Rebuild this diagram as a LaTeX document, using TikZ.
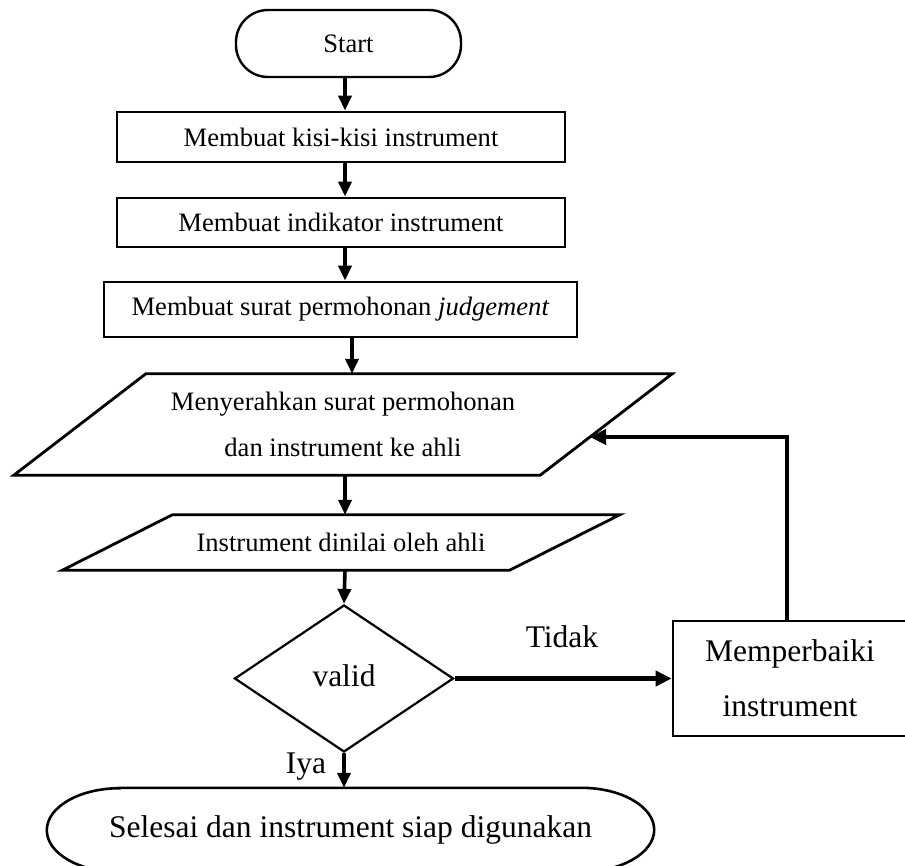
\documentclass[tikz,border=0pt]{standalone}
\usepackage{fontspec}
\setmainfont{Liberation Serif}
\usetikzlibrary{shapes.geometric,arrows.meta,calc}
\begin{document}
\begin{tikzpicture}[x=1pt,y=1pt,
  txt/.style={font=\fontsize{26.6}{30}\selectfont},
  big/.style={font=\fontsize{31.5}{55}\selectfont},
  box/.style={draw, rectangle, line width=2.8pt, inner sep=0pt, txt},
  startbox/.style={draw, rectangle, rounded corners=32pt, line width=2.4pt, inner sep=0pt, txt},
  para/.style={draw, line width=2.8pt, line join=miter},
  endline/.style={draw, line width=2.6pt},
  arr/.style={line width=3.6pt, -{Triangle[length=15pt,width=13pt]}},
  fb/.style={line width=4.6pt, -{Triangle[length=16pt,width=15pt]}},
]
\useasboundingbox (0,0) rectangle (905,-865);
\clip (0,0) rectangle (905,-865);

\coordinate (ax) at (345,0);
\coordinate (ax2) at (352,0);
\coordinate (fbx) at (787,0);
\coordinate (fbtip) at (590,-437);

\node[startbox, minimum width=225pt, minimum height=67pt] (start) at (348.5,-43.5) {Start};
\node[box, minimum width=448pt, minimum height=50pt] (b1) at (341,-137) {Membuat kisi-kisi instrument};
\node[box, minimum width=448pt, minimum height=49pt] (b2) at (341,-222.5) {Membuat indikator instrument};
\node[box, minimum width=473pt, minimum height=55pt] (b3) at (340.5,-309.5) {Membuat surat permohonan \textit{judgement}};

\node[align=center, minimum width=526pt, minimum height=101pt, inner sep=0pt, font=\fontsize{26.6}{46}\selectfont] (p1) at (343,-424.5) {Menyerahkan surat permohonan\\dan instrument ke ahli};
\draw[para] ([xshift=66pt]p1.north west) -- ([xshift=66pt]p1.north east) -- ([xshift=-66pt]p1.south east) -- ([xshift=-66pt]p1.south west) -- cycle;

\node[txt, minimum width=447pt, minimum height=55pt, inner sep=0pt] (p2) at (341,-542.5) {Instrument dinilai oleh ahli};
\draw[para] ([xshift=55pt]p2.north west) -- ([xshift=55pt]p2.north east) -- ([xshift=-55pt]p2.south east) -- ([xshift=-55pt]p2.south west) -- cycle;

\node[draw, diamond, minimum width=219pt, minimum height=147pt, inner sep=0pt, line width=2.2pt, big] (d) at (344,-678.5) {\raisebox{6pt}{valid}};

\node[box, big, align=center, minimum width=234pt, minimum height=115pt] (fix) at (790,-678.5) {Memperbaiki\\instrument};

\node[big, minimum width=607pt, minimum height=84pt, inner sep=0pt] (end) at (350.5,-830) {Selesai dan instrument siap digunakan};
\draw[endline] ([xshift=73pt]end.north west) -- ([xshift=-73pt]end.north east)
  arc[start angle=90,end angle=-90,x radius=73pt,y radius=42pt]
  -- ([xshift=73pt]end.south west)
  arc[start angle=270,end angle=90,x radius=73pt,y radius=42pt] -- cycle;

\draw[arr] (start.south -| ax) -- (b1.north -| ax);
\draw[arr] (b1.south -| ax) -- (b2.north -| ax);
\draw[arr] (b2.south -| ax) -- (b3.north -| ax);
\draw[arr] (b3.south -| ax2) -- (p1.north -| ax2);
\draw[arr] (p1.south -| ax) -- (p2.north -| ax);
\draw[arr] (p2.south -| ax) -- (d.north);
\draw[arr] (d.south) -- (end.north -| d.south);
\draw[fb] (d.east) -- (fix.west);
\draw[fb] (fix.north -| fbx) |- (fbtip);

\node[big] (tidak) at (562,-637) {Tidak};
\node[big] (iya) at (306,-767) {Iya};
\end{tikzpicture}
\end{document}
